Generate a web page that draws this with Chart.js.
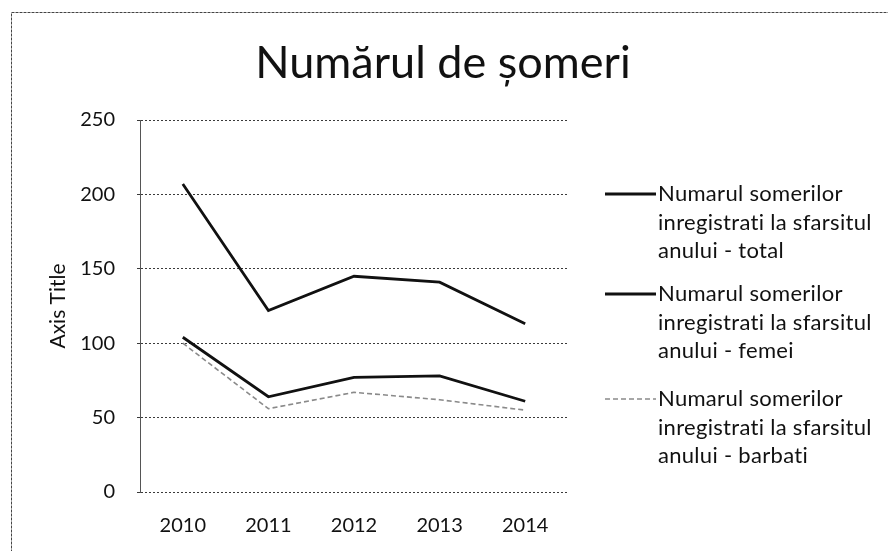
<!DOCTYPE html>
<html>
<head>
<meta charset="utf-8">
<script src="https://cdn.jsdelivr.net/npm/chart.js@4"></script>
<style>
  html, body { margin: 0; padding: 0; background: #fff; }
  #wrap { width: 888px; height: 551px; }
</style>
</head>
<body>
<div id="wrap"><canvas id="chart"></canvas></div>
<script>
// ---- Data ----
const years = ['2010', '2011', '2012', '2013', '2014'];
const total = [207, 122, 145, 141, 113];
const femei = [104, 64, 77, 78, 61];
const barbati = [100, 56, 67, 62, 55];
const titleText = 'Numărul de șomeri';
const seriesNames = [
  ['Numarul somerilor', 'inregistrati la sfarsitul', 'anului - total'],
  ['Numarul somerilor', 'inregistrati la sfarsitul', 'anului - femei'],
  ['Numarul somerilor', 'inregistrati la sfarsitul', 'anului - barbati']
];

const FONT = 'Lato, "Open Sans", sans-serif';

// title centred on the whole canvas, wrapped legend on the right, outer frame
const decor = {
  id: 'decor',
  afterDraw(chart) {
    const ctx = chart.ctx;
    ctx.save();
    ctx.fillStyle = '#111';
    ctx.font = '45px ' + FONT;
    ctx.textAlign = 'center';
    ctx.textBaseline = 'middle';
    ctx.fillText(titleText, 443, 63);

    const tops = [194, 294, 399];
    ctx.textAlign = 'left';
    ctx.letterSpacing = '0.3px'; // also keeps Lato from joining "ti"
    chart.data.datasets.forEach((ds, i) => {
      const y = tops[i];
      ctx.beginPath();
      ctx.strokeStyle = ds.borderColor;
      ctx.lineWidth = ds.borderWidth;
      ctx.setLineDash(ds.borderDash || []);
      ctx.moveTo(605, y);
      ctx.lineTo(656, y);
      ctx.stroke();
      ctx.setLineDash([]);
      ctx.fillStyle = '#111';
      ctx.font = '22px ' + FONT;
      ds.legendLines.forEach((t, k) => ctx.fillText(t, 658, y + k * 28.5));
    });
    ctx.letterSpacing = '0px';
    ctx.strokeStyle = '#444';
    ctx.lineWidth = 1;
    ctx.setLineDash([3, 1]);
    ctx.strokeRect(11.5, 12.5, 900, 560);
    ctx.restore();
  }
};

new Chart(document.getElementById('chart'), {
  type: 'line',
  data: {
    labels: years,
    datasets: [
      { label: 'total', legendLines: seriesNames[0], data: total, borderColor: '#111', borderWidth: 2.8, pointRadius: 0, tension: 0 },
      { label: 'femei', legendLines: seriesNames[1], data: femei, borderColor: '#111', borderWidth: 2.8, pointRadius: 0, tension: 0 },
      { label: 'barbati', legendLines: seriesNames[2], data: barbati, borderColor: '#8a8a8a', borderWidth: 1.6, borderDash: [5, 3], pointRadius: 0, tension: 0 }
    ]
  },
  options: {
    responsive: true,
    maintainAspectRatio: false,
    animation: false,
    layout: { padding: { left: 11, right: 320, top: 120, bottom: 0 } },
    plugins: {
      legend: { display: false },
      tooltip: { enabled: false },
      title: { display: false }
    },
    scales: {
      x: {
        offset: true,
        grid: { display: false },
        border: { display: false },
        ticks: { color: '#111', font: { family: FONT, size: 20 }, padding: 14 },
        afterFit(s) { s.height = 59; }
      },
      y: {
        min: 0, max: 250,
        ticks: { stepSize: 50, color: '#111', font: { family: FONT, size: 20 }, padding: 22 },
        grid: { color: '#3a3a3a', lineWidth: 1, tickLength: 3 },
        border: { display: true, color: '#555', dash: [2, 2] },
        title: { display: true, text: 'Axis Title', color: '#111', font: { family: FONT, size: 21 }, padding: { top: 35, bottom: 0 } },
        afterFit(s) { s.width = 129; }
      }
    }
  },
  plugins: [decor]
});
</script>
</body>
</html>
